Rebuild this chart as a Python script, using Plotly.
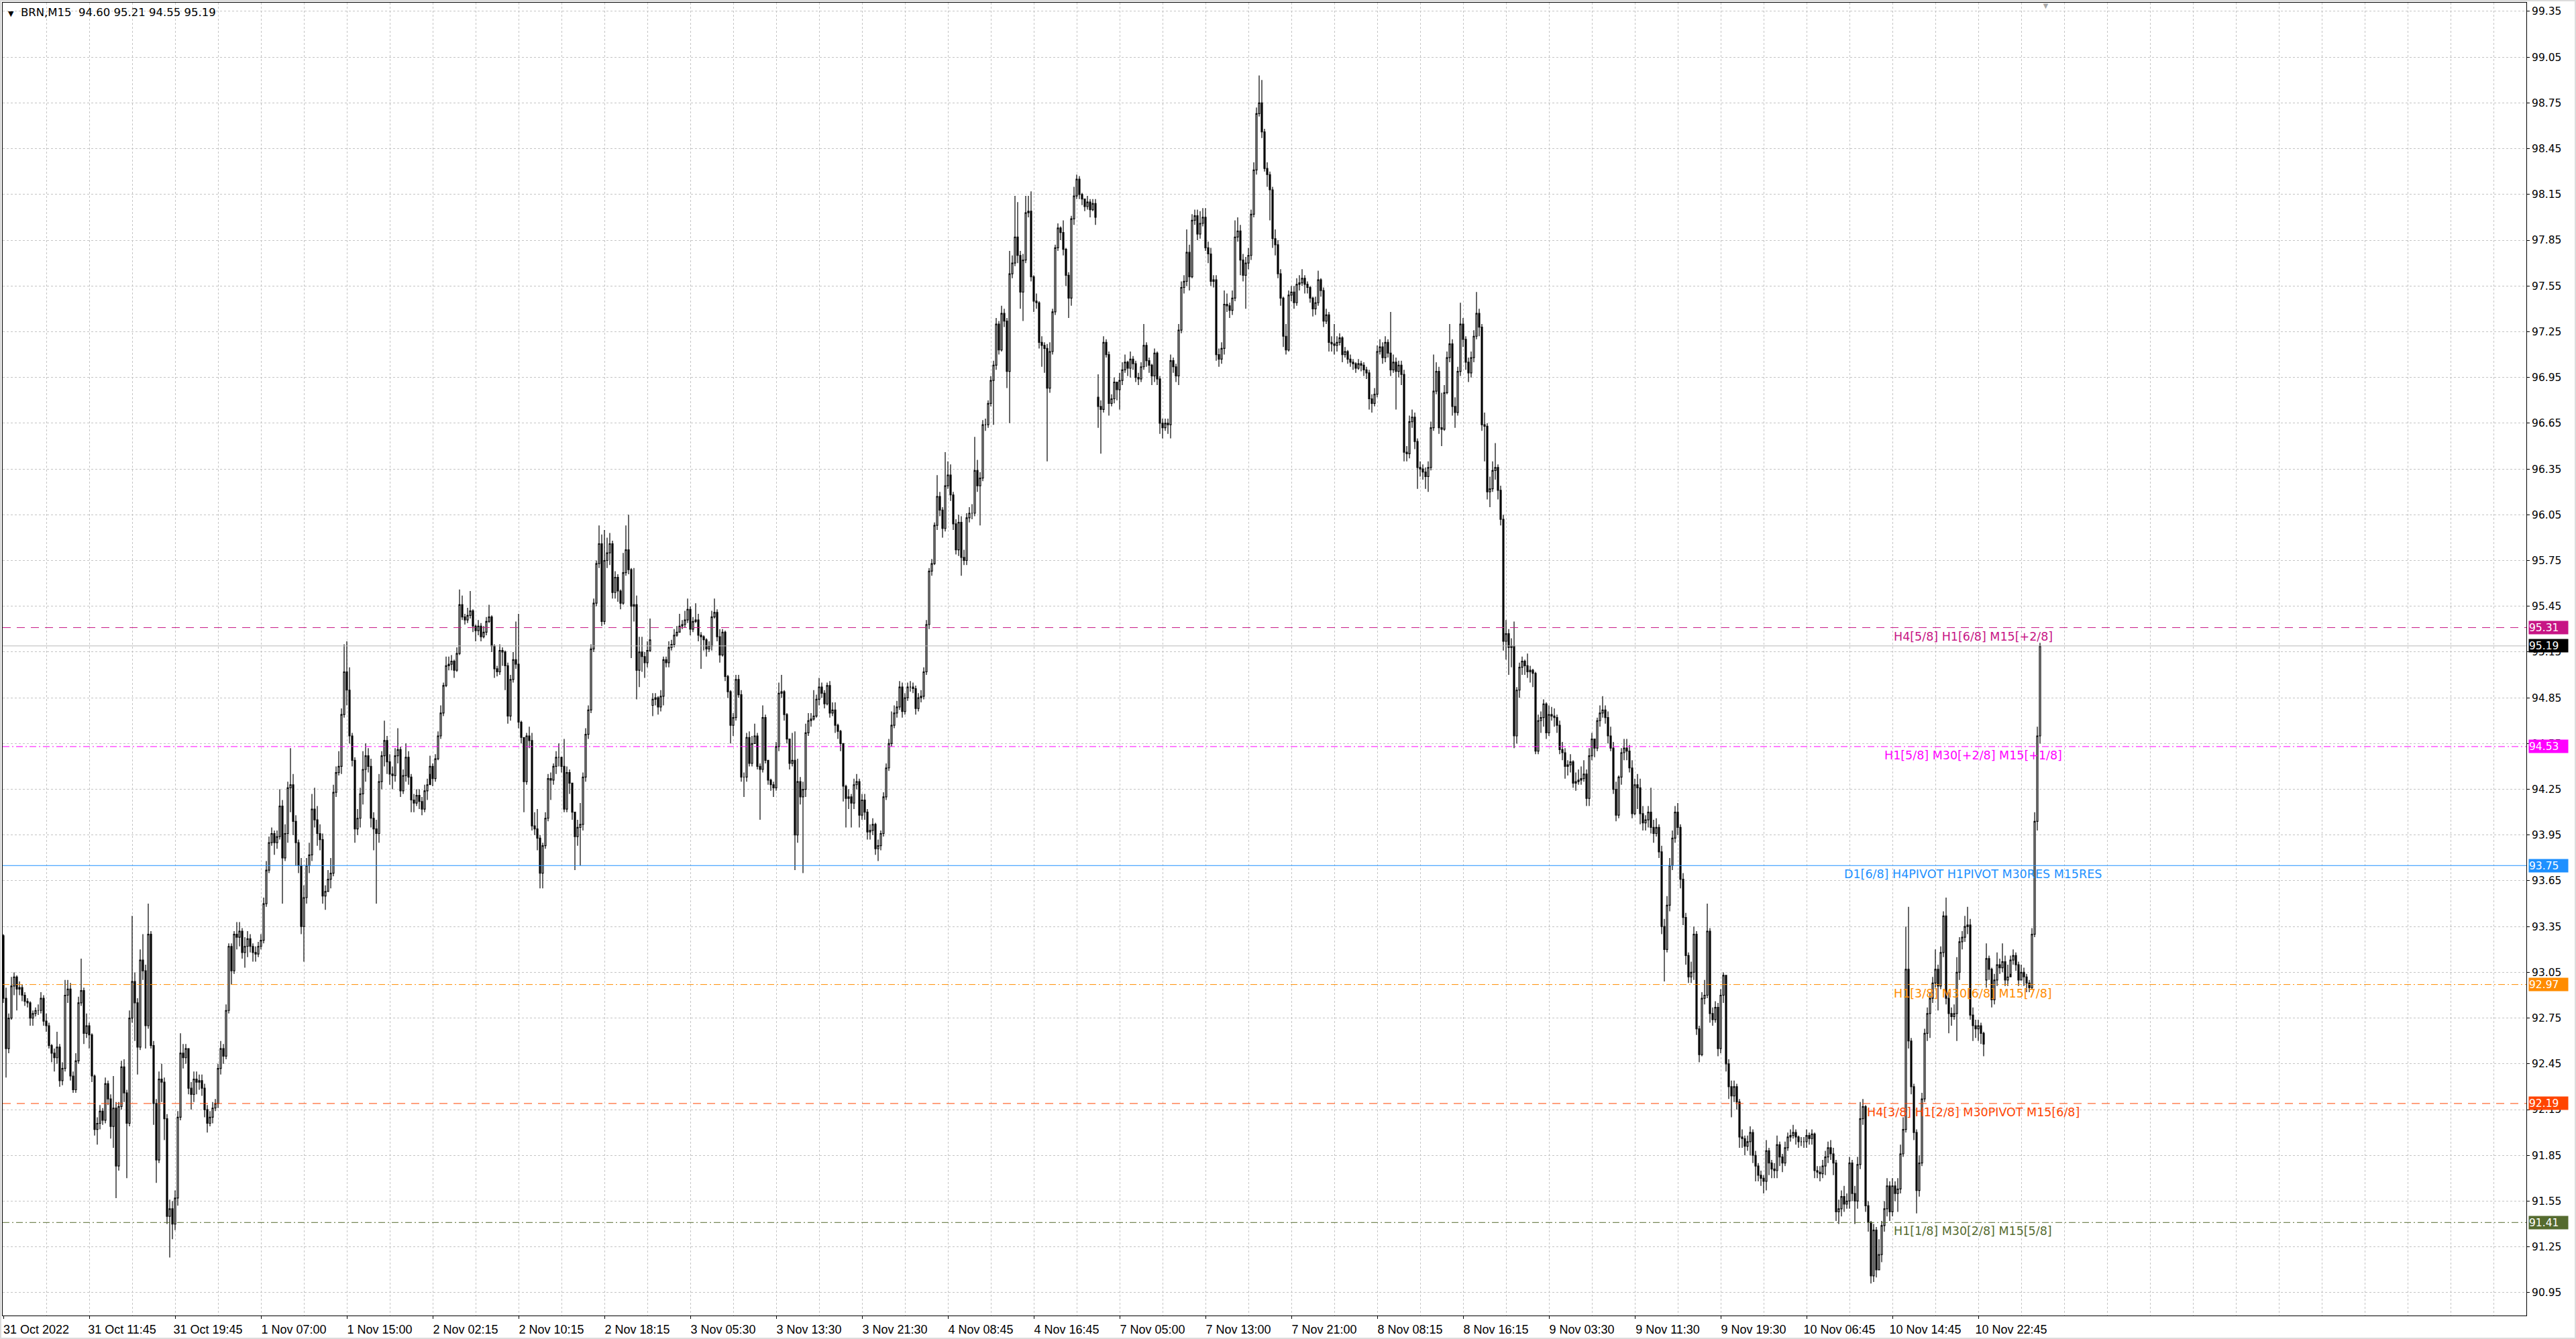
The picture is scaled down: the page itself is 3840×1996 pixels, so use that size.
import plotly.graph_objects as go

# BRN M15 bars (index = bar number from the left edge)
first_open = 93.29
gap_open = {242: 94.80, 408: 96.82, 739: 93.00}

bar_close = [
    92.88, 92.55, 92.75, 92.96, 93.02, 92.94, 92.95, 92.90, 92.86, 92.85,
    92.75, 92.78, 92.80, 92.80, 92.88, 92.73, 92.70, 92.57, 92.52, 92.49,
    92.56, 92.34, 92.42, 92.90, 92.94, 92.37, 92.28, 92.47, 92.85, 92.93,
    92.65, 92.70, 92.64, 92.37, 92.02, 92.06, 92.14, 92.08, 92.32, 92.22,
    92.04, 92.16, 91.78, 92.17, 92.43, 92.26, 92.06, 92.75, 92.99, 92.85,
    92.56, 93.13, 93.06, 92.70, 93.30, 92.57, 92.19, 91.82, 92.35, 92.33,
    92.09, 91.45, 91.50, 91.40, 91.57, 92.10, 92.52, 92.49, 92.55, 92.29,
    92.25, 92.35, 92.33, 92.34, 92.29, 92.15, 92.06, 92.10, 92.16, 92.19,
    92.42, 92.55, 92.50, 92.80, 93.22, 93.06, 93.30, 93.28, 93.32, 93.18,
    93.22, 93.27, 93.22, 93.18, 93.17, 93.22, 93.26, 93.50, 93.72, 93.90,
    93.96, 93.90, 93.94, 94.14, 93.80, 93.96, 94.26, 94.28, 94.04, 93.90,
    93.75, 93.35, 93.54, 93.75, 93.82, 94.12, 94.05, 93.96, 93.92, 93.55,
    93.58, 93.66, 93.70, 94.23, 94.36, 94.40, 94.74, 95.02, 94.90, 94.60,
    94.44, 93.99, 94.06, 94.22, 94.38, 94.47, 94.40, 94.06, 93.99, 93.96,
    94.30, 94.47, 94.57, 94.43, 94.35, 94.34, 94.47, 94.51, 94.24, 94.34,
    94.46, 94.33, 94.18, 94.16, 94.21, 94.17, 94.12, 94.24, 94.28, 94.40,
    94.32, 94.45, 94.60, 94.75, 94.93, 95.06, 95.07, 95.09, 95.03, 95.14,
    95.46, 95.38, 95.36, 95.39, 95.42, 95.32, 95.29, 95.32, 95.25, 95.28,
    95.35, 95.38, 95.19, 95.04, 95.02, 95.16, 95.15, 95.06, 94.73, 94.97,
    95.10, 95.07, 94.69, 94.59, 94.30, 94.60, 94.57, 94.01, 93.99, 93.93,
    93.70, 93.88, 94.06, 94.32, 94.31, 94.40, 94.46, 94.46, 94.40, 94.12,
    94.36, 94.29, 94.10, 93.94, 94.00, 94.02, 94.33, 94.61, 94.77, 95.17,
    95.47, 95.73, 95.86, 95.35, 95.75, 95.80, 95.86, 95.54, 95.64, 95.55,
    95.47, 95.67, 95.82, 95.69, 95.45, 95.46, 95.03, 95.15, 95.12, 95.08,
    95.16, 95.23, 94.84, 94.85, 94.79, 94.86, 95.10, 95.08, 95.18, 95.20,
    95.26, 95.28, 95.32, 95.33, 95.36, 95.43, 95.30, 95.35, 95.36, 95.26,
    95.25, 95.23, 95.17, 95.19, 95.38, 95.41, 95.25, 95.13, 95.28, 94.99,
    94.89, 94.67, 94.72, 94.97, 94.87, 94.33, 94.33, 94.59, 94.42, 94.55,
    94.60, 94.40, 94.38, 94.72, 94.44, 94.31, 94.28, 94.26, 94.53, 94.88,
    94.89, 94.74, 94.58, 94.42, 94.44, 93.95, 94.30, 94.20, 94.25, 94.62,
    94.70, 94.71, 94.73, 94.84, 94.92, 94.88, 94.81, 94.93, 94.75, 94.77,
    94.67, 94.63, 94.55, 94.27, 94.19, 94.20, 94.16, 94.28, 94.30, 94.08,
    94.18, 94.10, 93.97, 93.98, 94.02, 93.86, 93.88, 93.96, 94.20, 94.39,
    94.55, 94.67, 94.75, 94.79, 94.92, 94.76, 94.85, 94.92, 94.92, 94.91,
    94.78, 94.85, 94.86, 95.02, 95.33, 95.68, 95.73, 95.98, 96.17, 96.08,
    95.96, 96.24, 96.31, 96.18, 95.99, 95.82, 96.00, 95.77, 95.75, 96.03,
    96.06, 96.06, 96.34, 96.24, 96.29, 96.64, 96.64, 96.78, 96.93, 97.03,
    97.30, 97.13, 97.37, 97.32, 96.99, 97.63, 97.70, 97.87, 97.75, 97.51,
    97.72, 98.03, 98.04, 97.61, 97.45, 97.44, 97.18, 97.16, 97.14, 96.88,
    97.12, 97.38, 97.80, 97.93, 97.90, 97.79, 97.62, 97.47, 97.99, 98.14,
    98.25, 98.15, 98.12, 98.07, 98.10, 98.05, 98.09, 98.00, 96.76, 96.74,
    97.18, 97.10, 96.78, 96.81, 96.92, 96.87, 96.93, 97.00, 97.05, 97.01,
    97.07, 97.04, 96.95, 96.94, 97.02, 97.16, 97.06, 97.03, 96.96, 97.11,
    96.94, 96.65, 96.62, 96.65, 96.64, 97.06, 97.02, 96.96, 97.26, 97.54,
    97.58, 97.77, 97.61, 97.98, 98.01, 97.89, 97.96, 98.00, 97.80, 97.76,
    97.58, 97.59, 97.10, 97.07, 97.14, 97.43, 97.42, 97.39, 97.47, 97.87,
    97.91, 97.72, 97.62, 97.70, 97.75, 98.02, 98.31, 98.68, 98.75, 98.56,
    98.32, 98.28, 98.18, 97.86, 97.82, 97.63, 97.47, 97.22, 97.13, 97.49,
    97.51, 97.44, 97.56, 97.57, 97.60, 97.56, 97.54, 97.47, 97.40, 97.44,
    97.59, 97.52, 97.32, 97.36, 97.18, 97.17, 97.16, 97.18, 97.21, 97.10,
    97.12, 97.07, 97.05, 97.04, 97.01, 97.04, 97.03, 97.00, 96.98, 96.81,
    96.78, 96.84, 97.12, 97.15, 97.08, 97.18, 97.11, 97.00, 97.05, 96.99,
    97.03, 96.97, 96.46, 96.45, 96.66, 96.69, 96.53, 96.36, 96.35, 96.33,
    96.30, 96.36, 96.62, 96.86, 96.99, 96.62, 96.61, 96.85, 97.08, 97.17,
    96.76, 96.72, 96.99, 97.30, 97.20, 97.05, 96.98, 97.08, 97.22, 97.37,
    97.28, 96.64, 96.63, 96.20, 96.22, 96.34, 96.36, 96.21, 96.02, 95.22,
    95.27, 95.18, 95.19, 94.60, 94.90, 95.05, 95.09, 95.06, 95.02, 95.03,
    95.01, 94.50, 94.70, 94.72, 94.81, 94.62, 94.74, 94.73, 94.72, 94.67,
    94.51, 94.49, 94.40, 94.41, 94.43, 94.29, 94.30, 94.31, 94.32, 94.35,
    94.19, 94.47, 94.58, 94.52, 94.70, 94.75, 94.77, 94.72, 94.60, 94.52,
    94.25, 94.08, 94.33, 94.49, 94.52, 94.50, 94.39, 94.09, 94.28, 94.26,
    94.09, 94.03, 94.05, 94.10, 94.00, 93.96, 94.00, 93.84, 93.35, 93.20,
    93.49, 93.75, 93.93, 94.10, 94.00, 93.66, 93.41, 93.16, 93.02, 93.05,
    93.30, 92.68, 92.51, 92.88, 92.90, 93.32, 92.78, 92.74, 92.82, 92.55,
    92.90, 93.03, 92.45, 92.30, 92.24, 92.30, 92.20, 91.97, 91.96, 91.91,
    91.94, 92.00, 91.85, 91.78, 91.72, 91.70, 91.68, 91.88, 91.80, 91.76,
    91.75, 91.92, 91.84, 91.80, 91.90, 91.97, 91.98, 92.00, 91.97, 91.94,
    91.94, 91.94, 91.98, 91.96, 91.99, 91.75, 91.74, 91.73, 91.78, 91.84,
    91.90, 91.86, 91.80, 91.48, 91.50, 91.58, 91.53, 91.55, 91.80, 91.60,
    91.55, 91.79, 92.09, 92.17, 91.52, 91.41, 91.06, 91.36, 91.10, 91.20,
    91.39, 91.50, 91.65, 91.48, 91.65, 91.60, 91.63, 91.86, 92.02, 93.07,
    92.60, 92.30, 92.00, 91.62, 91.80, 92.22, 92.65, 92.78, 92.88, 92.98,
    93.07, 92.96, 93.18, 93.42, 92.88, 92.78, 92.76, 92.78, 93.05, 93.25,
    93.28, 93.35, 93.36, 92.77, 92.70, 92.68, 92.70, 92.65, 92.58, 93.14,
    93.07, 92.87, 93.00, 93.10, 93.08, 93.12, 93.00, 93.02, 93.13, 93.16,
    93.10, 93.00, 93.05, 93.02, 92.98, 92.95, 93.30, 94.04, 94.60, 95.19,
]

bar_high = [
    93.30, 92.95, 92.78, 93.02, 93.05, 93.03, 92.99, 92.97, 92.92, 92.88,
    92.86, 92.80, 92.82, 92.84, 92.92, 92.90, 92.78, 92.72, 92.58, 92.55,
    92.66, 92.58, 92.46, 93.00, 93.00, 92.98, 92.40, 92.52, 92.89, 93.14,
    92.95, 92.78, 92.72, 92.65, 92.38, 92.10, 92.18, 92.16, 92.36, 92.34,
    92.25, 92.37, 92.20, 92.20, 92.47, 92.48, 92.28, 92.80, 93.42, 93.05,
    92.88, 93.20, 93.30, 93.10, 93.50, 93.32, 92.60, 92.22, 92.40, 92.45,
    92.36, 92.12, 91.56, 91.55, 91.62, 92.14, 92.65, 92.58, 92.58, 92.55,
    92.33, 92.40, 92.40, 92.38, 92.38, 92.32, 92.18, 92.14, 92.20, 92.22,
    92.45, 92.60, 92.58, 92.84, 93.24, 93.24, 93.32, 93.38, 93.38, 93.34,
    93.28, 93.32, 93.30, 93.24, 93.22, 93.25, 93.30, 93.54, 93.78, 93.94,
    94.00, 93.98, 93.98, 94.25, 94.18, 94.02, 94.30, 94.52, 94.35, 94.08,
    93.92, 93.80, 93.62, 93.80, 93.90, 94.22, 94.26, 94.14, 94.02, 93.96,
    93.62, 93.72, 93.80, 94.28, 94.40, 94.50, 94.78, 95.20, 95.22, 95.05,
    94.62, 94.46, 94.12, 94.26, 94.50, 94.55, 94.52, 94.45, 94.10, 94.05,
    94.35, 94.50, 94.70, 94.60, 94.48, 94.40, 94.52, 94.65, 94.53, 94.38,
    94.55, 94.50, 94.35, 94.22, 94.25, 94.25, 94.20, 94.28, 94.32, 94.47,
    94.42, 94.48, 94.63, 94.80, 94.95, 95.12, 95.12, 95.13, 95.10, 95.18,
    95.56, 95.52, 95.40, 95.44, 95.55, 95.43, 95.33, 95.36, 95.34, 95.32,
    95.38, 95.46, 95.39, 95.20, 95.06, 95.20, 95.18, 95.16, 95.08, 95.00,
    95.15, 95.35, 95.40, 94.70, 94.58, 94.62, 94.66, 94.62, 94.10, 94.12,
    93.95, 93.90, 94.10, 94.35, 94.36, 94.42, 94.50, 94.55, 94.45, 94.58,
    94.40, 94.38, 94.28, 94.10, 94.05, 94.16, 94.36, 94.65, 94.80, 95.20,
    95.50, 95.75, 95.98, 95.92, 95.95, 95.90, 95.93, 95.88, 95.68, 95.66,
    95.56, 95.80, 95.98, 96.05, 95.70, 95.70, 95.52, 95.25, 95.25, 95.15,
    95.22, 95.37, 94.88, 94.88, 94.86, 94.90, 95.12, 95.12, 95.22, 95.23,
    95.30, 95.32, 95.40, 95.36, 95.42, 95.50, 95.45, 95.38, 95.47, 95.40,
    95.28, 95.26, 95.24, 95.22, 95.42, 95.50, 95.43, 95.30, 95.30, 95.29,
    95.00, 94.90, 94.75, 95.00, 95.00, 94.90, 94.36, 94.62, 94.63, 94.60,
    94.68, 94.62, 94.42, 94.80, 94.74, 94.44, 94.32, 94.30, 94.56, 94.95,
    95.00, 94.90, 94.75, 94.58, 94.62, 94.63, 94.45, 94.33, 94.30, 94.68,
    94.75, 94.75, 94.90, 94.87, 94.98, 94.95, 94.90, 94.95, 94.96, 94.82,
    94.82, 94.68, 94.64, 94.55, 94.28, 94.25, 94.22, 94.32, 94.35, 94.32,
    94.22, 94.22, 94.12, 94.02, 94.06, 94.03, 93.92, 93.98, 94.23, 94.42,
    94.58, 94.76, 94.80, 94.83, 94.96, 94.95, 94.88, 94.95, 94.96, 94.95,
    94.93, 94.88, 94.90, 95.05, 95.36, 95.70, 95.76, 96.00, 96.31, 96.20,
    96.10, 96.46, 96.40, 96.38, 96.20, 96.02, 96.05, 96.04, 95.82, 96.06,
    96.10, 96.12, 96.56, 96.41, 96.33, 96.67, 96.68, 96.80, 96.96, 97.06,
    97.34, 97.32, 97.42, 97.40, 97.34, 97.78, 97.75, 98.14, 98.10, 97.78,
    97.76, 98.14, 98.14, 98.17, 97.62, 97.50, 97.45, 97.22, 97.18, 97.17,
    97.18, 97.40, 97.82, 97.96, 97.94, 97.98, 97.80, 97.64, 98.01, 98.20,
    98.28, 98.27, 98.16, 98.12, 98.14, 98.12, 98.12, 98.12, 96.97, 96.80,
    97.22, 97.20, 97.12, 96.84, 96.95, 96.92, 96.98, 97.05, 97.10, 97.06,
    97.12, 97.09, 97.06, 96.98, 97.05, 97.30, 97.18, 97.08, 97.04, 97.14,
    97.12, 96.96, 96.68, 96.68, 96.68, 97.10, 97.08, 97.04, 97.30, 97.58,
    97.62, 97.92, 97.82, 98.02, 98.05, 98.05, 98.04, 98.06, 98.06, 97.84,
    97.80, 97.62, 97.62, 97.14, 97.18, 97.52, 97.50, 97.44, 97.52, 97.98,
    98.00, 97.95, 97.76, 97.74, 97.80, 98.05, 98.36, 98.72, 98.93, 98.90,
    98.58, 98.36, 98.30, 98.20, 97.92, 97.85, 97.66, 97.48, 97.30, 97.52,
    97.55, 97.55, 97.60, 97.62, 97.66, 97.62, 97.58, 97.55, 97.48, 97.48,
    97.65, 97.60, 97.54, 97.40, 97.38, 97.22, 97.30, 97.22, 97.24, 97.22,
    97.15, 97.13, 97.10, 97.07, 97.05, 97.07, 97.06, 97.05, 97.02, 97.00,
    96.84, 96.88, 97.16, 97.20, 97.18, 97.22, 97.20, 97.38, 97.10, 97.08,
    97.06, 97.06, 97.00, 96.50, 96.70, 96.74, 96.72, 96.55, 96.40, 96.38,
    96.36, 96.40, 96.66, 97.10, 97.05, 97.02, 96.85, 96.90, 97.12, 97.30,
    97.20, 96.82, 97.02, 97.44, 97.34, 97.22, 97.08, 97.12, 97.26, 97.51,
    97.40, 97.30, 96.72, 96.65, 96.30, 96.40, 96.52, 96.38, 96.24, 96.05,
    95.36, 95.30, 95.24, 95.35, 94.92, 95.08, 95.12, 95.10, 95.14, 95.06,
    95.04, 95.02, 94.74, 94.76, 94.84, 94.82, 94.80, 94.79, 94.78, 94.74,
    94.70, 94.56, 94.52, 94.44, 94.48, 94.44, 94.36, 94.38, 94.40, 94.44,
    94.38, 94.52, 94.62, 94.58, 94.72, 94.80, 94.86, 94.80, 94.76, 94.66,
    94.56, 94.30, 94.34, 94.52, 94.58, 94.58, 94.54, 94.44, 94.32, 94.35,
    94.32, 94.14, 94.08, 94.14, 94.26, 94.05, 94.06, 94.02, 93.88, 93.40,
    93.55, 93.80, 93.98, 94.14, 94.16, 94.02, 93.70, 93.44, 93.18, 93.12,
    93.35, 93.32, 92.70, 92.92, 93.00, 93.50, 93.34, 92.82, 92.86, 92.85,
    92.94, 93.05, 93.00, 92.48, 92.34, 92.34, 92.32, 92.22, 92.02, 91.98,
    91.98, 92.04, 92.02, 91.88, 91.80, 91.75, 91.72, 91.95, 91.90, 91.82,
    91.80, 91.98, 91.94, 91.86, 91.94, 92.00, 92.02, 92.05, 92.02, 91.98,
    91.97, 91.97, 92.02, 92.00, 92.02, 92.00, 91.78, 91.78, 91.82, 91.88,
    91.94, 91.95, 91.90, 91.82, 91.56, 91.62, 91.65, 91.60, 91.84, 91.82,
    91.65, 91.84, 92.20, 92.22, 92.18, 91.55, 91.42, 91.40, 91.38, 91.30,
    91.42, 91.55, 91.70, 91.68, 91.70, 91.68, 91.70, 91.92, 92.10, 93.35,
    93.48, 92.62, 92.32, 92.02, 91.85, 92.26, 92.68, 92.82, 92.92, 93.02,
    93.20, 93.10, 93.22, 93.45, 93.54, 92.92, 92.82, 92.84, 93.15, 93.28,
    93.32, 93.42, 93.48, 93.40, 92.82, 92.74, 92.74, 92.72, 92.66, 93.24,
    93.16, 93.08, 93.04, 93.18, 93.14, 93.24, 93.16, 93.10, 93.16, 93.20,
    93.18, 93.12, 93.10, 93.08, 93.04, 93.00, 93.34, 94.10, 94.66, 95.21,
]

bar_low = [
    92.85, 92.36, 92.52, 92.74, 92.90, 92.80, 92.90, 92.86, 92.83, 92.82,
    92.70, 92.70, 92.76, 92.77, 92.78, 92.70, 92.66, 92.55, 92.46, 92.40,
    92.45, 92.30, 92.31, 92.40, 92.85, 92.34, 92.26, 92.26, 92.45, 92.83,
    92.58, 92.62, 92.55, 92.33, 91.98, 91.92, 92.02, 92.05, 92.06, 92.18,
    91.96, 91.90, 91.57, 91.75, 92.15, 92.20, 91.70, 92.04, 92.72, 92.60,
    92.38, 92.54, 93.00, 92.55, 92.68, 92.55, 92.05, 91.67, 91.80, 92.20,
    91.95, 91.40, 91.18, 91.30, 91.36, 91.52, 92.08, 92.42, 92.45, 92.25,
    92.15, 92.20, 92.25, 92.28, 92.24, 92.10, 92.00, 92.04, 92.06, 92.14,
    92.16, 92.38, 92.45, 92.48, 92.78, 92.97, 93.04, 93.20, 93.22, 93.14,
    93.08, 93.15, 93.18, 93.12, 93.12, 93.15, 93.20, 93.24, 93.48, 93.70,
    93.88, 93.82, 93.86, 93.92, 93.50, 93.78, 93.90, 94.10, 93.95, 93.75,
    93.70, 93.30, 93.12, 93.50, 93.70, 93.78, 94.00, 93.88, 93.85, 93.50,
    93.46, 93.58, 93.60, 93.68, 94.20, 94.34, 94.35, 94.72, 94.80, 94.55,
    94.40, 93.90, 93.95, 94.00, 94.15, 94.30, 94.36, 94.00, 93.85, 93.50,
    93.90, 94.25, 94.40, 94.35, 94.28, 94.25, 94.30, 94.42, 94.20, 94.22,
    94.30, 94.28, 94.10, 94.10, 94.14, 94.12, 94.08, 94.10, 94.18, 94.35,
    94.27, 94.30, 94.44, 94.58, 94.73, 94.92, 95.03, 95.03, 94.98, 95.02,
    95.13, 95.36, 95.33, 95.34, 95.37, 95.28, 95.22, 95.26, 95.22, 95.24,
    95.26, 95.34, 95.15, 94.98, 94.99, 95.00, 95.06, 94.90, 94.68, 94.70,
    94.95, 95.04, 94.65, 94.55, 94.10, 94.28, 94.52, 93.98, 93.95, 93.85,
    93.60, 93.60, 93.86, 94.04, 94.18, 94.28, 94.35, 94.40, 94.36, 94.10,
    94.10, 94.22, 94.05, 93.72, 93.88, 93.75, 93.98, 94.30, 94.58, 94.75,
    95.15, 95.45, 95.70, 95.32, 95.33, 95.70, 95.72, 95.50, 95.50, 95.48,
    95.43, 95.46, 95.65, 95.66, 95.11, 95.35, 94.84, 94.92, 95.02, 94.98,
    95.05, 95.15, 94.73, 94.80, 94.74, 94.76, 94.80, 95.05, 95.05, 95.16,
    95.18, 95.25, 95.28, 95.30, 95.31, 95.34, 95.26, 95.28, 95.34, 95.22,
    95.04, 95.16, 95.12, 95.15, 95.16, 95.37, 95.22, 95.08, 95.12, 94.96,
    94.85, 94.55, 94.60, 94.70, 94.85, 94.30, 94.20, 94.30, 94.40, 94.40,
    94.55, 94.38, 94.05, 94.36, 94.42, 94.28, 94.24, 94.20, 94.24, 94.50,
    94.85, 94.70, 94.55, 94.38, 94.40, 93.72, 93.90, 94.15, 93.70, 94.20,
    94.60, 94.66, 94.70, 94.72, 94.80, 94.85, 94.78, 94.80, 94.72, 94.73,
    94.62, 94.58, 94.50, 94.17, 94.00, 94.12, 94.00, 94.12, 94.25, 94.00,
    94.05, 94.05, 93.92, 93.92, 93.95, 93.82, 93.78, 93.85, 93.94, 94.18,
    94.37, 94.53, 94.65, 94.72, 94.77, 94.72, 94.74, 94.83, 94.89, 94.88,
    94.74, 94.76, 94.82, 94.84, 95.00, 95.30, 95.65, 95.72, 95.95, 96.04,
    95.90, 95.94, 96.22, 96.14, 95.95, 95.79, 95.78, 95.65, 95.72, 95.72,
    96.00, 96.02, 96.04, 96.20, 95.98, 96.27, 96.60, 96.62, 96.76, 96.64,
    97.00, 97.10, 97.12, 97.28, 96.88, 96.65, 97.60, 97.68, 97.70, 97.40,
    97.32, 97.70, 98.00, 97.58, 97.38, 97.40, 97.14, 97.02, 96.98, 96.40,
    96.85, 97.10, 97.36, 97.78, 97.85, 97.75, 97.55, 97.34, 97.42, 97.95,
    98.12, 98.12, 98.08, 98.04, 98.05, 98.00, 98.04, 97.95, 96.62, 96.45,
    96.72, 97.08, 96.70, 96.76, 96.78, 96.80, 96.74, 96.90, 96.98, 96.96,
    96.95, 97.00, 96.92, 96.90, 96.92, 97.00, 97.02, 96.98, 96.90, 96.92,
    96.90, 96.58, 96.55, 96.60, 96.58, 96.55, 96.98, 96.92, 96.90, 97.24,
    97.50, 97.55, 97.52, 97.60, 97.95, 97.85, 97.86, 97.94, 97.78, 97.70,
    97.55, 97.54, 97.06, 97.02, 97.04, 97.10, 97.38, 97.34, 97.36, 97.45,
    97.84, 97.62, 97.58, 97.40, 97.66, 97.72, 98.00, 98.28, 98.66, 98.52,
    98.30, 98.20, 97.98, 97.80, 97.75, 97.60, 97.42, 97.15, 97.10, 97.12,
    97.45, 97.40, 97.42, 97.52, 97.55, 97.50, 97.50, 97.44, 97.35, 97.36,
    97.42, 97.48, 97.28, 97.30, 97.12, 97.12, 97.10, 97.12, 97.16, 97.05,
    97.08, 97.04, 97.02, 97.00, 96.98, 97.00, 96.99, 96.96, 96.94, 96.74,
    96.72, 96.76, 96.82, 97.10, 97.04, 97.05, 97.08, 96.96, 96.98, 96.74,
    96.95, 96.90, 96.40, 96.40, 96.42, 96.62, 96.48, 96.22, 96.30, 96.28,
    96.22, 96.20, 96.34, 96.60, 96.84, 96.58, 96.50, 96.60, 96.84, 97.05,
    96.70, 96.62, 96.70, 96.96, 97.15, 97.00, 96.92, 96.95, 97.05, 97.20,
    97.22, 96.60, 96.40, 96.15, 96.10, 96.20, 96.28, 96.15, 95.98, 95.16,
    95.10, 95.00, 95.05, 94.52, 94.55, 94.85, 95.00, 95.00, 94.98, 94.95,
    94.92, 94.48, 94.48, 94.62, 94.66, 94.58, 94.60, 94.70, 94.66, 94.62,
    94.48, 94.44, 94.32, 94.34, 94.36, 94.26, 94.24, 94.28, 94.28, 94.30,
    94.14, 94.14, 94.44, 94.46, 94.50, 94.66, 94.72, 94.68, 94.55, 94.50,
    94.22, 94.04, 94.06, 94.28, 94.44, 94.44, 94.36, 94.06, 94.08, 94.12,
    94.02, 93.98, 93.98, 94.00, 93.96, 93.90, 93.94, 93.80, 93.30, 92.99,
    93.18, 93.45, 93.72, 93.90, 93.95, 93.60, 93.36, 93.10, 92.98, 92.98,
    93.00, 92.64, 92.46, 92.50, 92.84, 92.88, 92.72, 92.70, 92.72, 92.50,
    92.52, 92.85, 92.40, 92.22, 92.10, 92.20, 92.15, 91.90, 91.90, 91.85,
    91.88, 91.85, 91.80, 91.68, 91.68, 91.65, 91.60, 91.62, 91.72, 91.70,
    91.70, 91.70, 91.78, 91.74, 91.78, 91.88, 91.94, 91.96, 91.92, 91.90,
    91.91, 91.90, 91.90, 91.92, 91.92, 91.70, 91.70, 91.68, 91.70, 91.72,
    91.80, 91.82, 91.72, 91.42, 91.40, 91.45, 91.48, 91.50, 91.50, 91.55,
    91.40, 91.50, 91.76, 92.05, 91.48, 91.35, 91.01, 91.02, 91.05, 91.10,
    91.15, 91.35, 91.45, 91.42, 91.45, 91.55, 91.48, 91.60, 91.84, 92.00,
    92.55, 92.25, 91.95, 91.47, 91.58, 91.78, 92.20, 92.60, 92.62, 92.85,
    92.95, 92.80, 92.94, 93.15, 92.84, 92.65, 92.70, 92.74, 92.60, 93.00,
    93.20, 93.25, 93.30, 92.74, 92.60, 92.62, 92.60, 92.58, 92.50, 92.95,
    93.00, 92.82, 92.84, 92.96, 93.04, 93.05, 92.96, 92.96, 93.04, 93.10,
    93.06, 92.96, 93.00, 92.96, 92.92, 92.92, 92.94, 93.28, 93.98, 94.55,
]

# time labels shown every 32 bars
x_tick_text = [
    "31 Oct 2022", "31 Oct 11:45", "31 Oct 19:45", "1 Nov 07:00", "1 Nov 15:00",
    "2 Nov 02:15", "2 Nov 10:15", "2 Nov 18:15", "3 Nov 05:30", "3 Nov 13:30",
    "3 Nov 21:30", "4 Nov 08:45", "4 Nov 16:45", "7 Nov 05:00", "7 Nov 13:00",
    "7 Nov 21:00", "8 Nov 08:15", "8 Nov 16:15", "9 Nov 03:30", "9 Nov 11:30",
    "9 Nov 19:30", "10 Nov 06:45", "10 Nov 14:45", "10 Nov 22:45",
]

# murrey-math style levels
level_price = [95.31, 94.53, 93.75, 92.97, 92.19, 91.41]
level_text = [
    "H4[5/8] H1[6/8] M15[+2/8]",
    "H1[5/8] M30[+2/8] M15[+1/8]",
    "D1[6/8] H4PIVOT H1PIVOT M30RES M15RES",
    "H1[3/8] M30[6/8] M15[7/8]",
    "H4[3/8] H1[2/8] M30PIVOT M15[6/8]",
    "H1[1/8] M30[2/8] M15[5/8]",
]
level_color = ["#C71585", "#FF00FF", "#1E90FF", "#FF8C00", "#FF4500", "#556B2F"]
level_dash = ["12px,9px", "10px,4px,2px,4px", "solid", "10px,4px,2px,4px",
              "12px,9px", "10px,4px,2px,4px"]

bid_price = 95.19
symbol_info = "BRN,M15\u00a0\u00a094.60 95.21 94.55 95.19"

n = len(bar_close)
bars = list(range(n))
bar_open = [first_open] + bar_close[:-1]
for k, v in gap_open.items():
    bar_open[k] = v

GRID = "#c4c4c4"

fig = go.Figure()
fig.add_trace(go.Candlestick(
    x=bars, open=bar_open, high=bar_high, low=bar_low, close=bar_close,
    increasing=dict(line=dict(color="black", width=1.2), fillcolor="white"),
    decreasing=dict(line=dict(color="black", width=1.2), fillcolor="black"),
    whiskerwidth=0, hoverinfo="skip", showlegend=False,
))

# bid line
fig.add_shape(type="line", xref="paper", x0=0, x1=1, yref="y",
              y0=bid_price, y1=bid_price, line=dict(color="#b8b8b8", width=1))

for p, t, c, d in zip(level_price, level_text, level_color, level_dash):
    fig.add_shape(type="line", xref="paper", x0=0, x1=1, yref="y", y0=p, y1=p,
                  line=dict(color=c, width=1, dash=d), layer="above")
    fig.add_annotation(x=734, y=p, text=t, showarrow=False, xanchor="center",
                       yanchor="top", yshift=-1,
                       font=dict(family="DejaVu Sans", size=17.5, color=c))
    fig.add_annotation(xref="paper", x=1, y=p, text="%.2f" % p, showarrow=False,
                       xanchor="left", yanchor="middle", xshift=3, bgcolor=c,
                       width=58, height=19, align="left", borderpad=0,
                       font=dict(family="DejaVu Sans", size=15.5, color="white"))

fig.add_annotation(xref="paper", x=1, y=bid_price, text="%.2f" % bid_price,
                   showarrow=False, xanchor="left", yanchor="middle", xshift=3,
                   bgcolor="black", width=58, height=19, align="left", borderpad=0,
                   font=dict(family="DejaVu Sans", size=15.5, color="white"))

# header and chart-shift marker
fig.add_annotation(xref="paper", yref="paper", x=0, y=1, xanchor="left",
                   yanchor="top", xshift=6, yshift=-3, showarrow=False,
                   text="<span style='font-size:11px'>\u25bc</span>\u00a0\u00a0" + symbol_info,
                   font=dict(family="DejaVu Sans", size=16.5, color="black"))
fig.add_annotation(x=n + 1, yref="paper", y=1, xanchor="center", yanchor="top",
                   yshift=7, showarrow=False, text="\u25bc",
                   font=dict(size=13, color="#a8a8a8"))

# light window frame around the whole chart
fig.add_shape(type="rect", xref="paper", yref="paper",
              x0=-0.0008, x1=1.0194, y0=-0.0174, y1=1.0015,
              line=dict(color="#dcdcdc", width=2), layer="below")

fig.update_xaxes(
    range=[-0.25, 940.25],
    tickmode="array",
    tickvals=[32 * i for i in range(len(x_tick_text))],
    ticktext=x_tick_text,
    ticks="outside", ticklen=4, tickcolor="black",
    ticklabelshift=49,
    tickfont=dict(family="Liberation Sans", size=18, color="black"),
    showgrid=True, gridcolor=GRID, griddash="3px,3px", gridwidth=1,
    minor=dict(tickmode="linear", tick0=0, dtick=16, showgrid=True,
               gridcolor=GRID, griddash="3px,3px", gridwidth=1),
    showline=True, linecolor="black", linewidth=1, mirror=True,
    zeroline=False, rangeslider=dict(visible=False), fixedrange=True,
)
fig.update_yaxes(
    side="right",
    range=[90.80, 99.407],
    tick0=90.95, dtick=0.3, tickformat=".2f",
    ticks="outside", ticklen=4, tickcolor="black",
    tickfont=dict(family="DejaVu Sans", size=15.5, color="black"),
    showgrid=True, gridcolor=GRID, griddash="3px,3px", gridwidth=1,
    showline=True, linecolor="black", linewidth=1, mirror=True,
    zeroline=False, fixedrange=True,
)
fig.update_layout(
    width=3840, height=1996,
    margin=dict(l=4, r=74, t=4, b=35),
    paper_bgcolor="white", plot_bgcolor="white",
    showlegend=False,
)

fig.write_html("out.html", config={"displayModeBar": False},
               post_script="document.body.style.margin='0px';")
